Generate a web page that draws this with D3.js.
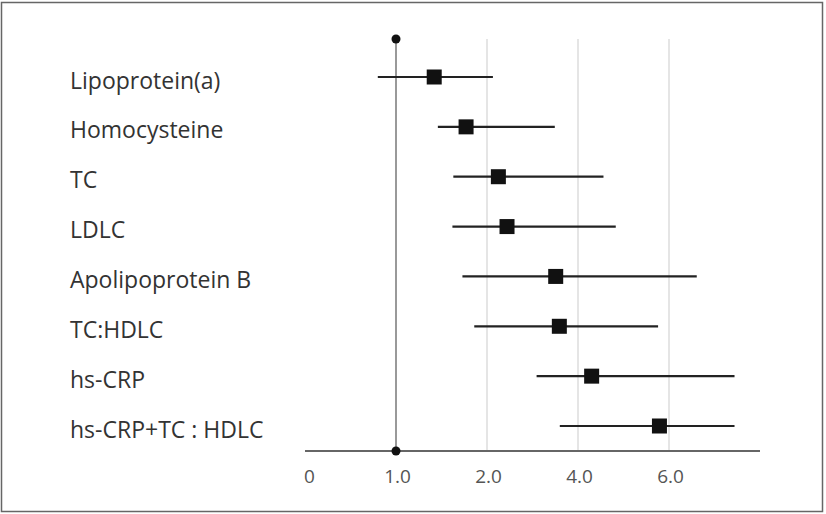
<!DOCTYPE html>
<html>
<head>
<meta charset="utf-8">
<script src="https://cdn.jsdelivr.net/npm/d3@7"></script>
<style>
  body { margin: 0; background: #fff; }
  svg { display: block; font-family: "Open Sans", "Noto Sans", sans-serif; }
</style>
</head>
<body>
<svg width="826" height="514"></svg>
<script>
var factors = ["Lipoprotein(a)", "Homocysteine", "TC", "LDLC", "Apolipoprotein B", "TC:HDLC", "hs-CRP", "hs-CRP+TC : HDLC"];
var estimate = [1.42, 1.77, 2.25, 2.44, 3.51, 3.59, 4.30, 5.79];
var lower    = [0.80, 1.46, 1.63, 1.62, 1.73, 1.86, 3.09, 3.60];
var upper    = [2.13, 3.49, 4.56, 4.83, 6.61, 5.76, 7.44, 7.44];
var tickValues = [0, 1, 2, 4, 6];
var tickLabels = ["0", "1.0", "2.0", "4.0", "6.0"];
var gridValues = [2, 4, 6];
var axisEnd = 8;

var svg = d3.select("svg");

// frame
svg.append("rect")
	.attr("x", 1.5).attr("y", 2.5)
	.attr("width", 821).attr("height", 509)
	.attr("fill", "none")
	.attr("stroke", "#666")
	.attr("stroke-width", 1.5);

// equally spaced ticks: 0, 1, 2, 4, 6 (8 = end of axis line)
var x = d3.scaleLinear()
	.domain([0, 1, 2, 4, 6, 8])
	.range([305, 396, 487, 578, 669, 760]);

var y = d3.scalePoint()
	.domain(factors)
	.range([77, 426]);

var yTop = 39, yBase = 451;

// light grid
svg.append("g")
	.selectAll("line")
	.data(gridValues)
	.enter().append("line")
		.attr("x1", function(d) { return x(d); })
		.attr("x2", function(d) { return x(d); })
		.attr("y1", yTop)
		.attr("y2", yBase)
		.attr("stroke", "#dcdcdc")
		.attr("stroke-width", 1.5);

// reference line at 1
svg.append("line")
	.attr("x1", x(1)).attr("x2", x(1))
	.attr("y1", yTop).attr("y2", yBase)
	.attr("stroke", "#777")
	.attr("stroke-width", 1.5);

// x axis
var axis = svg.append("g")
	.attr("transform", "translate(0," + yBase + ")")
	.call(d3.axisBottom(x)
		.tickValues(tickValues)
		.tickSize(0)
		.tickPadding(0)
		.tickFormat(function(d, i) { return tickLabels[i]; }));
axis.select(".domain").remove();
axis.selectAll("text")
	.attr("dy", null)
	.attr("y", 32)
	.attr("dx", function(d) { return d === 0 ? 4 : 1; })
	.attr("fill", "#555")
	.attr("font-size", 19)
	.attr("font-family", "Open Sans, sans-serif");

svg.append("line")
	.attr("x1", x(0)).attr("x2", x(axisEnd))
	.attr("y1", yBase).attr("y2", yBase)
	.attr("stroke", "#666")
	.attr("stroke-width", 2);

// dots at ends of reference line
svg.selectAll("circle.ref")
	.data([yTop, yBase])
	.enter().append("circle")
		.attr("class", "ref")
		.attr("cx", x(1))
		.attr("cy", function(d) { return d; })
		.attr("r", 4.5)
		.attr("fill", "#111");

// labels
svg.append("g")
	.selectAll("text")
	.data(factors)
	.enter().append("text")
		.attr("x", 70)
		.attr("y", function(d) { return y(d) + 11.5; })
		.attr("fill", "#333")
		.attr("font-size", 23)
		.text(function(d) { return d; });

// CI lines and squares
var rows = factors.map(function(f, i) {
	return { name: f, est: estimate[i], lo: lower[i], hi: upper[i] };
});

svg.append("g")
	.selectAll("line")
	.data(rows)
	.enter().append("line")
		.attr("x1", function(d) { return x(d.lo); })
		.attr("x2", function(d) { return x(d.hi); })
		.attr("y1", function(d) { return y(d.name); })
		.attr("y2", function(d) { return y(d.name); })
		.attr("stroke", "#222")
		.attr("stroke-width", 2.2);

var sq = 15;
svg.append("g")
	.selectAll("rect")
	.data(rows)
	.enter().append("rect")
		.attr("x", function(d) { return x(d.est) - sq / 2; })
		.attr("y", function(d) { return y(d.name) - sq / 2; })
		.attr("width", sq)
		.attr("height", sq)
		.attr("fill", "#111");
</script>
</body>
</html>
